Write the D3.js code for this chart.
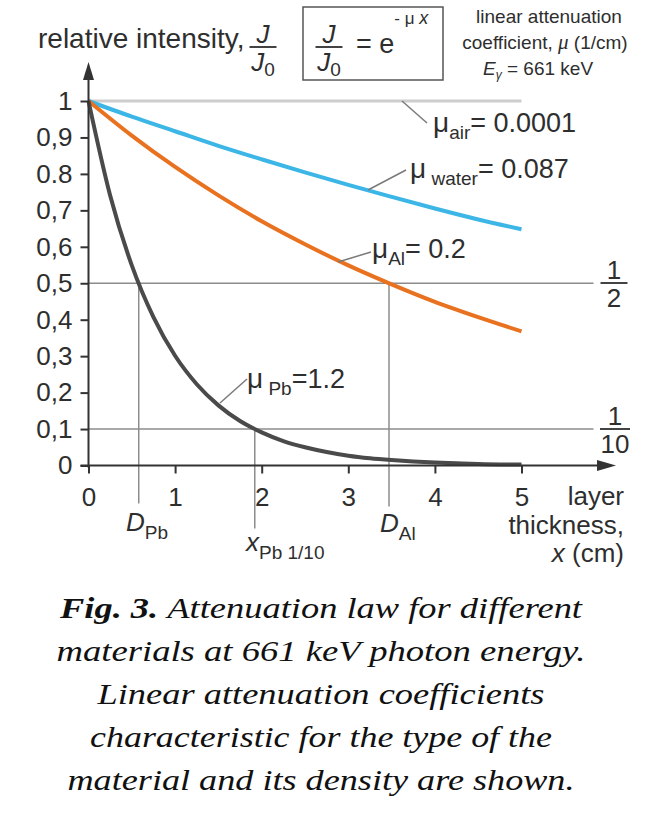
<!DOCTYPE html>
<html>
<head>
<meta charset="utf-8">
<script src="https://cdn.jsdelivr.net/npm/d3@7/dist/d3.min.js"></script>
<style>
	body { margin: 0; background: #fff; }
	svg text { font-family: "Liberation Sans", Arial, sans-serif; fill: #2e2e2e; }
	.caption text { font-family: "Liberation Serif", "Times New Roman", serif; fill: #111; }
</style>
</head>
<body>
<div id="chart"></div>
<script>
// layer thickness (cm) and relative intensity J/J0
var thickness = [0, 0.5, 1, 1.5, 2, 2.5, 3, 3.5, 4, 4.5, 5];
var air       = [1, 1, 1, 1, 1, 1, 1, 1, 1, 1, 1];
var water     = [1, 0.957, 0.917, 0.877, 0.84, 0.804, 0.77, 0.737, 0.705, 0.675, 0.648];
var aluminium = [1, 0.905, 0.819, 0.741, 0.67, 0.607, 0.549, 0.497, 0.449, 0.407, 0.368];

// lead falls fast, so it was read at finer steps
var thicknessPb = [0, 0.25, 0.5, 0.75, 1, 1.25, 1.5, 1.75, 2, 2.25, 2.5, 2.75, 3, 3.25, 3.5, 3.75, 4, 4.25, 4.5, 4.75, 5];
var lead = [1, 0.741, 0.549, 0.407, 0.301, 0.223, 0.165, 0.122, 0.091, 0.067, 0.05, 0.037, 0.027, 0.02, 0.015, 0.011, 0.008, 0.006, 0.004, 0.003, 0.003];

var yTicks      = [0, 0.1, 0.2, 0.3, 0.4, 0.5, 0.6, 0.7, 0.8, 0.9, 1];
var yTickLabels = ['0', '0,1', '0,2', '0,3', '0,4', '0,5', '0,6', '0,7', '0.8', '0,9', '1'];
var xTicks      = [0, 1, 2, 3, 4, 5];
var xTickLabels = ['0', '1', '2', '3', '4', '5'];

// half and tenth levels, and the thicknesses where they are reached
var levels     = [0.5, 0.1];
var dPb        = 0.58;
var xPbTenth   = 1.92;
var dAl        = 3.47;

var captionLines = [
	'Attenuation law for different',
	'materials at 661 keV photon energy.',
	'Linear attenuation coefficients',
	'characteristic for the type of the',
	'material and its density are shown.'
];
// widths of the caption lines as measured on the figure
var captionWidths = [522, 529, 447, 462, 507];

var W = 668, H = 814;

var svg = d3.select('#chart').append('svg')
	.attr('width', W)
	.attr('height', H);

var x = d3.scaleLinear().domain([0, 5]).range([88.5, 521.5]);
var y = d3.scaleLinear().domain([0, 1]).range([465.5, 101]);

var grey = '#8c8c8c';

// reference lines at 1/2 and 1/10
svg.selectAll('.level').data(levels).enter().append('line')
	.attr('class', 'level')
	.attr('x1', x(0)).attr('x2', x(5) + 72)
	.attr('y1', function(d){ return y(d) }).attr('y2', function(d){ return y(d) })
	.attr('stroke', grey).attr('stroke-width', 1.5);

// drop lines down to the thickness labels
var drops = [[dPb, 0.5, 38], [xPbTenth, 0.1, 63], [dAl, 0.5, 41]];
svg.selectAll('.drop').data(drops).enter().append('line')
	.attr('class', 'drop')
	.attr('x1', function(d){ return x(d[0]) }).attr('x2', function(d){ return x(d[0]) })
	.attr('y1', function(d){ return y(d[1]) }).attr('y2', function(d){ return y(0) + d[2] })
	.attr('stroke', grey).attr('stroke-width', 1.5);

var line = d3.line()
	.x(function(d){ return x(d[0]) })
	.y(function(d){ return y(d[1]) })
	.curve(d3.curveMonotoneX);

var series = [
	{ xs: thickness,   ys: air,       color: '#cdcdcd', w: 3 },
	{ xs: thickness,   ys: water,     color: '#3cb6e6', w: 4 },
	{ xs: thickness,   ys: aluminium, color: '#e8721f', w: 4 },
	{ xs: thicknessPb, ys: lead,      color: '#4a4a4a', w: 4 }
];

svg.selectAll('.curve').data(series).enter().append('path')
	.attr('class', 'curve')
	.attr('d', function(s){ return line(s.xs.map(function(t, i){ return [t, s.ys[i]] })) })
	.attr('fill', 'none')
	.attr('stroke', function(s){ return s.color })
	.attr('stroke-width', function(s){ return s.w });

// axes
var yAxis = svg.append('g')
	.attr('transform', 'translate(' + x(0) + ',0)')
	.call(d3.axisLeft(y).tickValues(yTicks).tickSize(8).tickPadding(8)
		.tickFormat(function(d, i){ return yTickLabels[i] }));

var xAxis = svg.append('g')
	.attr('transform', 'translate(0,' + y(0) + ')')
	.call(d3.axisBottom(x).tickValues(xTicks).tickSize(8).tickPadding(14)
		.tickFormat(function(d, i){ return xTickLabels[i] }));

[yAxis, xAxis].forEach(function(g){
	g.select('.domain').remove();
	g.selectAll('.tick line').attr('stroke', '#333').attr('stroke-width', 2);
	g.selectAll('.tick text').attr('font-size', 26).attr('fill', '#2e2e2e')
		.attr('font-family', '"Liberation Sans", Arial, sans-serif');
});

svg.append('line')
	.attr('x1', x(0)).attr('x2', x(0))
	.attr('y1', y(0) + 2).attr('y2', 78)
	.attr('stroke', '#333').attr('stroke-width', 2);
svg.append('path')
	.attr('d', 'M' + x(0) + ',62 L' + (x(0) - 5.5) + ',80 L' + (x(0) + 5.5) + ',80 Z')
	.attr('fill', '#333');

svg.append('line')
	.attr('x1', x(0) - 8).attr('x2', 600)
	.attr('y1', y(0)).attr('y2', y(0))
	.attr('stroke', '#333').attr('stroke-width', 2);
svg.append('path')
	.attr('d', 'M616,' + y(0) + ' L597,' + (y(0) - 5.5) + ' L597,' + (y(0) + 5.5) + ' Z')
	.attr('fill', '#333');

// text with sub/superscript parts: [text, size, dy, italic, family]
function richText(px, py, parts, color, anchor){
	var t = svg.append('text')
		.attr('x', px).attr('y', py)
		.attr('fill', color || '#2e2e2e')
		.attr('text-anchor', anchor || 'start');
	parts.forEach(function(p){
		var s = t.append('tspan').text(p[0]).attr('font-size', p[1]);
		if (p[2]) s.attr('dy', p[2]);
		if (p[3]) s.attr('font-style', 'italic');
		if (p[4]) s.attr('font-family', p[4]);
	});
	return t;
}

function fraction(cx, barY, top, bottom, size, color, barW, italic){
	richText(cx, barY - 4, [[top, size, 0, italic]], color, 'middle');
	svg.append('line')
		.attr('x1', cx - barW / 2).attr('x2', cx + barW / 2)
		.attr('y1', barY).attr('y2', barY)
		.attr('stroke', color).attr('stroke-width', 1.8);
	return richText(cx, barY + 24, bottom, color, 'middle');
}

// header
richText(38, 48, [['relative intensity,', 28]]);
fraction(263, 47, 'J', [['J', 26, 0, true], ['0', 19, 5]], 26, '#2e2e2e', 27, true);

svg.append('rect')
	.attr('x', 303).attr('y', 7).attr('width', 140).attr('height', 73)
	.attr('fill', 'none').attr('stroke', '#555').attr('stroke-width', 1.5);
fraction(329, 47, 'J', [['J', 26, 0, true], ['0', 19, 5]], 26, '#2e2e2e', 27, true);
richText(356, 53, [['= e', 27], ['- \u03bc ', 17, -29], ['x', 18, 0, true]]);

richText(549, 23, [['linear attenuation', 19]], null, 'middle');
richText(545, 49, [['coefficient, ', 19], ['\u03bc', 21, 0, true, '"Liberation Serif", serif'], [' (1/cm)', 19]], null, 'middle');
richText(483, 75, [['E', 19, 0, true], ['\u03b3', 12, 4, true], [' = 661 keV', 19, -4]]);

// curve labels with leader lines
var leaders = [
	[402, y(1), 427, 123],
	[368, 190, 406, 170],
	[338, 262, 371, 252],
	[220, 403, 247, 379]
];
svg.selectAll('.leader').data(leaders).enter().append('line')
	.attr('class', 'leader')
	.attr('x1', function(d){ return d[0] }).attr('y1', function(d){ return d[1] })
	.attr('x2', function(d){ return d[2] }).attr('y2', function(d){ return d[3] })
	.attr('stroke', '#7a7a7a').attr('stroke-width', 1.5);

richText(433, 132, [['\u03bc', 28], ['air', 19, 7], ['= 0.0001', 27, -7]], '#c9c9c9');
richText(410, 178, [['\u03bc', 28], [' water', 19, 7], ['= 0.087', 27, -7]], '#3cb6e6');
richText(372, 258, [['\u03bc', 28], ['Al', 19, 7], ['= 0.2', 27, -7]], '#e2772f');
richText(247, 388, [['\u03bc', 28], [' Pb', 19, 7], ['=1.2', 27, -7]], '#555');

// level fractions at the right
fraction(614, 283, '1', [['2', 26]], 26, '#2e2e2e', 27);
fraction(615, 429, '1', [['10', 26]], 26, '#2e2e2e', 30);

// thickness markers under the axis
richText(126, 531, [['D', 26, 0, true], ['Pb', 19, 8]], '#8a8a8a');
richText(246, 551, [['x', 26, 0, true], ['Pb 1/10', 19, 8]], '#8a8a8a');
richText(380, 532, [['D', 26, 0, true], ['Al', 19, 8]], '#e48a4c');

// x axis title
richText(624, 505, [['layer', 26]], null, 'end');
richText(624, 534, [['thickness,', 26]], null, 'end');
richText(624, 562, [['x', 26, 0, true], [' (cm)', 26]], null, 'end');

// caption
var cap = svg.append('g').attr('class', 'caption');
cap.selectAll('text').data(captionLines).enter().append('text')
	.attr('x', 321)
	.attr('y', function(d, i){ return 618 + i * 43 })
	.attr('text-anchor', 'middle')
	.attr('font-size', 30)
	.attr('font-style', 'italic')
	.attr('textLength', function(d, i){ return captionWidths[i] })
	.attr('lengthAdjust', 'spacingAndGlyphs')
	.each(function(d, i){
		var t = d3.select(this);
		if (i == 0) {
			t.append('tspan').attr('font-weight', 'bold').text('Fig. 3. ');
		}
		t.append('tspan').text(d);
	});
</script>
</body>
</html>
